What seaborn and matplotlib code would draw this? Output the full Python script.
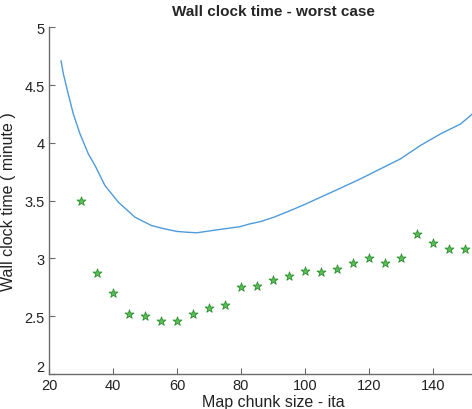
import matplotlib
matplotlib.use("Agg")
import matplotlib.pyplot as plt
import seaborn as sns
import pandas as pd

# Blue curve
curve_x = [23.75, 24.5, 26.0, 27.6, 29.7, 32.3, 34.4, 37.5, 41.7, 46.9, 52.1, 55.8,
           59.9, 63, 66.2, 72.4, 79.7, 82.9, 86, 90.2, 95.4, 100, 104.8, 111, 117.3,
           123.5, 129.8, 136, 142.3, 148.6, 152.3]
curve_y = [4.711, 4.596, 4.423, 4.250, 4.077, 3.904, 3.803, 3.630, 3.486, 3.356, 3.284,
           3.258, 3.234, 3.227, 3.222, 3.247, 3.275, 3.300, 3.318, 3.356, 3.414, 3.468,
           3.529, 3.607, 3.688, 3.774, 3.861, 3.976, 4.077, 4.163, 4.25]

# Green stars
star_x = [30, 35, 40, 45, 50, 55, 60, 65, 70, 75, 80, 85, 90, 95, 100, 105, 110,
          115, 120, 125, 130, 135, 140, 145, 150]
star_y = [3.50, 2.87, 2.70, 2.52, 2.50, 2.46, 2.46, 2.52, 2.57, 2.60, 2.75, 2.76,
          2.81, 2.85, 2.89, 2.88, 2.91, 2.96, 3.00, 2.96, 3.00, 3.21, 3.13, 3.08, 3.08]

x_ticks = [20, 40, 60, 80, 100, 120, 140]
y_ticks = [2, 2.5, 3, 3.5, 4, 4.5, 5]
y_tick_labels = ["2", "2.5", "3", "3.5", "4", "4.5", "5"]

sns.set_style("ticks")
plt.rcParams["font.family"] = ["Liberation Sans", "DejaVu Sans"]

fig = plt.figure(figsize=(4.72, 4.10), dpi=100)
ax = fig.add_axes([49 / 472, (410 - 375) / 410, (497 - 49) / 472, (375 - 28.3) / 410])

df_line = pd.DataFrame({"x": curve_x, "y": curve_y})
df_star = pd.DataFrame({"x": star_x, "y": star_y})

sns.lineplot(data=df_line, x="x", y="y", ax=ax, color="#4f9bd9", linewidth=1.0,
             sort=False)
sns.scatterplot(data=df_star, x="x", y="y", ax=ax, marker="*", s=45,
                color="#5cbf5c", edgecolor="#2a8f2a", linewidth=0.6, zorder=3)

ax.set_xlim(20, 160)
ax.set_ylim(2, 5)
ax.set_xticks(x_ticks)
ax.set_xticklabels([str(v) for v in x_ticks])
ax.set_yticks(y_ticks)
ax.set_yticklabels(y_tick_labels)

for s in ["top", "right"]:
    ax.spines[s].set_visible(False)
for s in ["left", "bottom"]:
    ax.spines[s].set_color("#6b6b6b")
    ax.spines[s].set_linewidth(1.0)

ax.tick_params(direction="in", length=4, width=0.8, color="#6b6b6b",
               labelsize=10.5, labelcolor="#222222", pad=3)
# MATLAB-style: the "2" label sits slightly raised above the x tick labels
for lbl in ax.get_yticklabels():
    if lbl.get_text() == "2":
        lbl.set_verticalalignment("bottom")

ax.set_title("Wall clock time - worst case", fontsize=11, fontweight="bold", pad=9)
ax.set_xlabel("Map chunk size - ita", fontsize=11.5, labelpad=1, color="#222222")
ax.set_ylabel("Wall clock time ( minute )", fontsize=11.5, labelpad=6, color="#222222")

fig.savefig("out.png", dpi=100)
